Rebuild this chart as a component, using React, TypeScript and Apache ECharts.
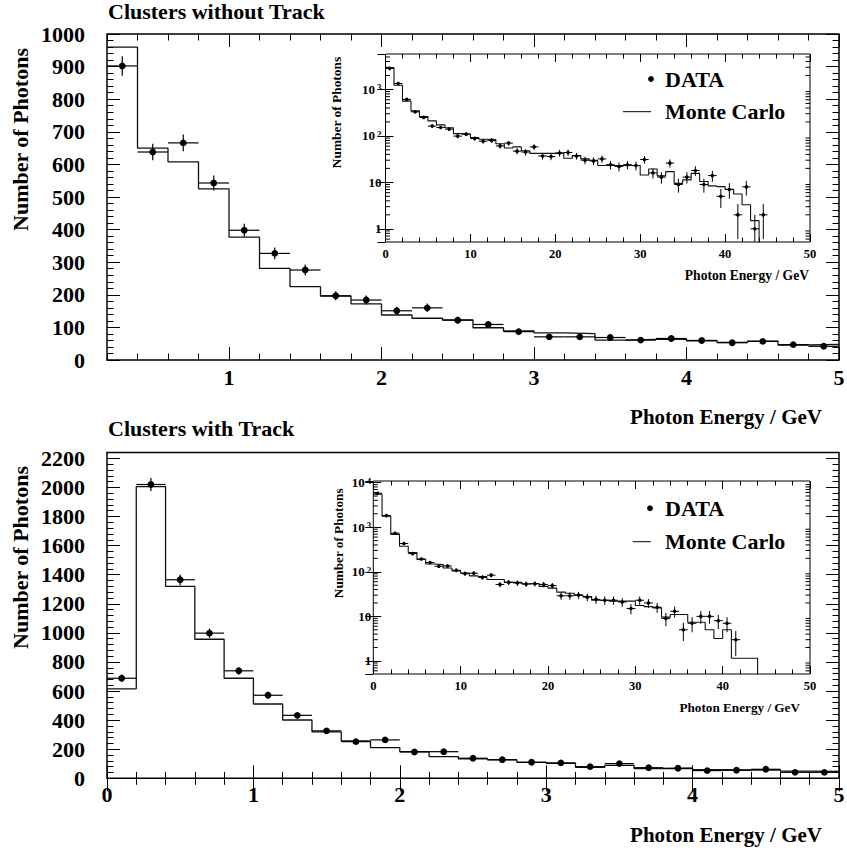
import React, { useEffect, useRef } from 'react';
import * as echarts from 'echarts';

const FONT = '"Liberation Serif", "Times New Roman", "DejaVu Serif", serif';
const BLACK = '#000';

// ---------- Clusters without Track (main, 0.2 GeV bins from 0.2 to 5.0) ----------
const topStart = 0.2;
const topBin = 0.2;
const topData = [902, 638, 666, 543, 398, 327, 276, 197, 184, 151, 160, 122, 109, 87, 71, 71, 69, 61, 66, 60, 53, 57, 47, 42];
const topErr = [30, 25, 26, 23, 20, 18, 17, 14, 14, 12, 13, 11, 10, 9, 8, 8, 8, 8, 8, 8, 7, 8, 7, 6];
const topMC = [960, 650, 608, 525, 377, 281, 225, 196, 172, 138, 128, 123, 99, 89, 83, 81, 61, 63, 64, 59, 54, 58, 46, 48];
const topXTicks = [1, 2, 3, 4, 5];

// ---------- Clusters without Track (inset, 1 GeV bins from 0) ----------
const insTopStart = 0;
const insTopBin = 1;
const insTopData = [2850, 1340, 610, 330, 250, 163, 152, 140, 99, 109, 88, 77, 80, 61, 70, 47, 45, 58, 37, 36, 43, 44, 37, 30, 29, 32, 24, 22, 24, 23, 31, 16, 13, 26, 9, 13, 18, 9, 14, 5, 7, 2, 8, 1, 2];
const insTopErr = [53, 37, 25, 18, 16, 13, 12, 12, 10, 10, 9, 9, 9, 8, 8, 7, 7, 8, 6, 6, 7, 7, 6, 5.5, 5.4, 5.7, 4.9, 4.7, 4.9, 4.8, 5.6, 4, 3.6, 5.1, 3, 3.6, 4.2, 3, 3.7, 2.2, 2.6, 1.4, 2.8, 1, 1.4];
const insTopMC = [2950, 1230, 560, 346, 262, 211, 173, 150, 112, 110, 92, 85, 84, 68, 55, 58, 48, 42, 42, 42, 43, 33, 38, 32, 30, 23, 23, 23, 23, 23, 14.4, 19.4, 13.8, 17, 9.5, 11.3, 15.6, 10.4, 8.4, 8.1, 7.1, 5.6, 3.3, 1.5];

// ---------- Clusters with Track (main, 0.2 GeV bins from 0 to 5.0) ----------
const botStart = 0;
const botBin = 0.2;
const botData = [688, 2020, 1365, 998, 739, 571, 433, 326, 252, 264, 181, 183, 138, 128, 110, 106, 80, 101, 73, 69, 53, 55, 62, 41, 41];
const botErr = [26, 45, 37, 32, 27, 24, 21, 18, 16, 16, 13, 14, 12, 11, 10, 10, 9, 10, 9, 8, 7, 7, 8, 6, 6];
const botMC = [615, 2005, 1319, 956, 688, 511, 401, 319, 257, 211, 183, 149, 133, 126, 110, 103, 76, 89, 67, 69, 60, 57, 57, 50, 48];

// ---------- Clusters with Track (inset, 1 GeV bins from 0) ----------
const insBotStart = 0;
const insBotBin = 1;
const insBotData = [5780, 1820, 733, 430, 256, 194, 161, 133, 135, 108, 91, 93, 75, 84, 52, 58, 56, 53, 54, 52, 49, 29, 29, 30, 27, 24, 23, 23, 21, 15, 23, 20, 16, 9, 13, 5, 7, 10, 10, 8, 7, 3];
const insBotErr = [76, 43, 27, 21, 16, 14, 13, 11.5, 11.6, 10.4, 9.5, 9.6, 8.7, 9.2, 7.2, 7.6, 7.5, 7.3, 7.3, 7.2, 7, 5.4, 5.4, 5.5, 5.2, 4.9, 4.8, 4.8, 4.6, 3.9, 4.8, 4.5, 4, 3, 3.6, 2.2, 2.6, 3.2, 3.2, 2.8, 2.6, 1.7];
const insBotMC = [5500, 1760, 690, 374, 270, 188, 150, 145, 122, 105, 94, 81, 78, 67, 67, 58, 58, 54, 54, 47, 43, 35, 33, 30, 28, 23, 23, 22, 22, 22, 17.5, 16.5, 15.5, 9.6, 11, 11, 7.4, 7.4, 5, 3.2, 5, 1.15, 1.15, 1.15];

// axis ranges
const insTopYMin = 0.52;
const insTopYMax = 5800;
const insBotYMin = 0.51;
const insBotYMax = 10860;

function binCentres(start: number, width: number, values: number[], errors: number[]) {
  return values.map((v, i) => [start + (i + 0.5) * width, v, errors[i], width / 2]);
}

function histSteps(start: number, width: number, values: number[], tail?: number) {
  const pts = values.map((v, i) => [start + i * width, v]);
  pts.push([start + values.length * width, tail === undefined ? values[values.length - 1] : tail]);
  return pts;
}

function logMinor(min: number, max: number) {
  const out: number[][] = [];
  for (let e = -1; e <= 5; e++) {
    for (let m = 2; m <= 9; m++) {
      const v = m * Math.pow(10, e);
      if (v > min && v < max) out.push([0, v]);
    }
  }
  return out;
}

function errRender(radius: number, yFloor: number, lw: number) {
  return (params: any, api: any) => {
    const x = api.value(0);
    const y = api.value(1);
    const e = api.value(2);
    const hw = api.value(3);
    const c = api.coord([x, y]);
    const l = api.coord([x - hw, y]);
    const r = api.coord([x + hw, y]);
    const t = api.coord([x, y + e]);
    const b = api.coord([x, Math.max(y - e, yFloor)]);
    const st = { stroke: BLACK, lineWidth: lw };
    return {
      type: 'group',
      children: [
        { type: 'line', shape: { x1: l[0], y1: c[1], x2: r[0], y2: c[1] }, style: st },
        { type: 'line', shape: { x1: c[0], y1: t[1], x2: c[0], y2: b[1] }, style: st },
        { type: 'circle', shape: { cx: c[0], cy: c[1], r: radius }, style: { fill: BLACK } },
      ],
    };
  };
}

function minorRender(len: number) {
  return (params: any, api: any) => {
    const p = api.coord([0, api.value(1)]);
    const cs = params.coordSys;
    const st = { stroke: BLACK, lineWidth: 1 };
    return {
      type: 'group',
      children: [
        { type: 'line', shape: { x1: cs.x, y1: p[1], x2: cs.x + len, y2: p[1] }, style: st },
        { type: 'line', shape: { x1: cs.x + cs.width, y1: p[1], x2: cs.x + cs.width - len, y2: p[1] }, style: st },
      ],
    };
  };
}

const tickStyle = { color: BLACK, width: 1 };
const plain = (v: number) => String(v);
const mainLabel = { fontFamily: FONT, fontWeight: 'bold', fontSize: 22, color: BLACK, formatter: plain };
const insLabel = { fontFamily: FONT, fontWeight: 'bold', fontSize: 12.5, color: BLACK, formatter: plain };

function logFormatter(v: number) {
  const e = Math.round(Math.log10(v));
  if (e === 0) return '1';
  if (e === 1) return '10';
  return '10{s|' + e + '}';
}

const logRich = {
  s: { fontFamily: FONT, fontWeight: 'bold', fontSize: 9, color: BLACK, verticalAlign: 'top', padding: [0, 0, 8, 2], lineHeight: 9 },
};

function xAx(grid: number, pos: string, min: number, max: number, extra: any) {
  return {
    type: 'value', gridIndex: grid, position: pos, min, max,
    axisLine: { show: false }, splitLine: { show: false },
    ...extra,
  };
}

function App() {
  const ref = useRef<HTMLDivElement>(null);

  useEffect(() => {
    if (!ref.current) return;
    const chart = echarts.init(ref.current, null, { renderer: 'svg' });

    const grids = [
      { left: 107, top: 34, width: 732, height: 326, show: true, borderColor: BLACK, borderWidth: 1.5, backgroundColor: 'transparent', containLabel: false, outerBoundsMode: 'none' },
      { left: 385.5, top: 54, width: 424.5, height: 188, show: true, borderColor: BLACK, borderWidth: 1, backgroundColor: '#fff', containLabel: false, outerBoundsMode: 'none' },
      { left: 107, top: 452.5, width: 732, height: 325.8, show: true, borderColor: BLACK, borderWidth: 1.5, backgroundColor: 'transparent', containLabel: false, outerBoundsMode: 'none' },
      { left: 373.3, top: 481, width: 436.7, height: 193, show: true, borderColor: BLACK, borderWidth: 1, backgroundColor: '#fff', containLabel: false, outerBoundsMode: 'none' },
    ];

    const xAxes = [
      // top main
      xAx(0, 'bottom', topStart, 5, {
        axisTick: { show: true, inside: true, length: 13, lineStyle: tickStyle, customValues: topXTicks },
        axisLabel: { ...mainLabel, margin: 6, customValues: topXTicks },
      }),
      xAx(0, 'bottom', topStart, 5, {
        interval: 0.2,
        axisTick: { show: true, inside: true, length: 6.5, lineStyle: tickStyle },
        axisLabel: { show: false },
      }),
      xAx(0, 'top', topStart, 5, {
        axisTick: { show: true, inside: true, length: 13, lineStyle: tickStyle, customValues: topXTicks },
        axisLabel: { show: false },
      }),
      xAx(0, 'top', topStart, 5, {
        interval: 0.2,
        axisTick: { show: true, inside: true, length: 6.5, lineStyle: tickStyle },
        axisLabel: { show: false },
      }),
      // top inset
      xAx(1, 'bottom', 0, 50, {
        interval: 10,
        axisTick: { show: true, inside: true, length: 8, lineStyle: tickStyle },
        minorTick: { show: true, splitNumber: 5, length: 4.5, lineStyle: tickStyle },
        axisLabel: { ...insLabel, margin: 5 },
      }),
      xAx(1, 'top', 0, 50, {
        interval: 10,
        axisTick: { show: true, inside: true, length: 8, lineStyle: tickStyle },
        minorTick: { show: true, splitNumber: 5, length: 4.5, lineStyle: tickStyle },
        axisLabel: { show: false },
      }),
      // bottom main
      xAx(2, 'bottom', 0, 5, {
        interval: 1,
        axisTick: { show: true, inside: true, length: 13, lineStyle: tickStyle },
        minorTick: { show: true, splitNumber: 5, length: 6.5, lineStyle: tickStyle },
        axisLabel: { ...mainLabel, margin: 5 },
      }),
      xAx(2, 'top', 0, 5, {
        interval: 1,
        axisTick: { show: true, inside: true, length: 13, lineStyle: tickStyle },
        minorTick: { show: true, splitNumber: 5, length: 6.5, lineStyle: tickStyle },
        axisLabel: { show: false },
      }),
      // bottom inset
      xAx(3, 'bottom', 0, 50, {
        interval: 10,
        axisTick: { show: true, inside: true, length: 8, lineStyle: tickStyle },
        minorTick: { show: true, splitNumber: 5, length: 4.5, lineStyle: tickStyle },
        axisLabel: { ...insLabel, margin: 5 },
      }),
      xAx(3, 'top', 0, 50, {
        interval: 10,
        axisTick: { show: true, inside: true, length: 8, lineStyle: tickStyle },
        minorTick: { show: true, splitNumber: 5, length: 4.5, lineStyle: tickStyle },
        axisLabel: { show: false },
      }),
    ];

    const yAxes = [
      // top main
      xAx(0, 'left', 0, 1000, {
        interval: 100,
        axisTick: { show: true, inside: true, length: 13, lineStyle: tickStyle },
        minorTick: { show: true, splitNumber: 5, length: 6.5, lineStyle: tickStyle },
        axisLabel: { ...mainLabel, margin: 22 },
      }),
      xAx(0, 'right', 0, 1000, {
        interval: 100,
        axisTick: { show: true, inside: true, length: 13, lineStyle: tickStyle },
        minorTick: { show: true, splitNumber: 5, length: 6.5, lineStyle: tickStyle },
        axisLabel: { show: false },
      }),
      // top inset (log)
      {
        type: 'log', logBase: 10, gridIndex: 1, position: 'left', min: insTopYMin, max: insTopYMax,
        axisLine: { show: false }, splitLine: { show: false },
        axisTick: { show: true, inside: true, length: 8, lineStyle: tickStyle },
        axisLabel: { ...insLabel, fontSize: 13, margin: 4, showMinLabel: false, showMaxLabel: false, formatter: logFormatter, rich: logRich },
      },
      {
        type: 'log', logBase: 10, gridIndex: 1, position: 'right', min: insTopYMin, max: insTopYMax,
        axisLine: { show: false }, splitLine: { show: false },
        axisTick: { show: true, inside: true, length: 8, lineStyle: tickStyle },
        axisLabel: { show: false },
      },
      // bottom main
      xAx(2, 'left', 0, 2240, {
        interval: 200,
        axisTick: { show: true, inside: true, length: 13, lineStyle: tickStyle },
        axisLabel: { ...mainLabel, margin: 22, showMaxLabel: false },
      }),
      xAx(2, 'left', 0, 2240, {
        interval: 40,
        axisTick: { show: true, inside: true, length: 6.5, lineStyle: tickStyle },
        axisLabel: { show: false },
      }),
      xAx(2, 'right', 0, 2240, {
        interval: 200,
        axisTick: { show: true, inside: true, length: 13, lineStyle: tickStyle },
        axisLabel: { show: false },
      }),
      xAx(2, 'right', 0, 2240, {
        interval: 40,
        axisTick: { show: true, inside: true, length: 6.5, lineStyle: tickStyle },
        axisLabel: { show: false },
      }),
      // bottom inset (log)
      {
        type: 'log', logBase: 10, gridIndex: 3, position: 'left', min: insBotYMin, max: insBotYMax,
        axisLine: { show: false }, splitLine: { show: false },
        axisTick: { show: true, inside: true, length: 8, lineStyle: tickStyle },
        axisLabel: { ...insLabel, fontSize: 13, margin: 2, showMinLabel: false, showMaxLabel: false, formatter: logFormatter, rich: logRich },
      },
      {
        type: 'log', logBase: 10, gridIndex: 3, position: 'right', min: insBotYMin, max: insBotYMax,
        axisLine: { show: false }, splitLine: { show: false },
        axisTick: { show: true, inside: true, length: 8, lineStyle: tickStyle },
        axisLabel: { show: false },
      },
    ];

    const mcLine = (xi: number, yi: number, data: number[][], w: number) => ({
      type: 'line', name: 'Monte Carlo', xAxisIndex: xi, yAxisIndex: yi, data,
      step: 'end', symbol: 'none', showSymbol: false, clip: true, silent: true, z: 2,
      lineStyle: { color: '#111', width: w },
    });

    const dataSeries = (xi: number, yi: number, data: number[][], r: number, floor: number, lw: number) => ({
      type: 'custom', name: 'DATA', xAxisIndex: xi, yAxisIndex: yi, data,
      renderItem: errRender(r, floor, lw), silent: true, z: 3,
    });

    const series = [
      mcLine(0, 0, histSteps(topStart, topBin, topMC), 1.3),
      dataSeries(0, 0, binCentres(topStart, topBin, topData, topErr), 3.4, 0, 1.2),
      mcLine(4, 2, histSteps(insTopStart, insTopBin, insTopMC, insTopYMin / 10), 1.1),
      dataSeries(4, 2, binCentres(insTopStart, insTopBin, insTopData, insTopErr), 1.8, insTopYMin, 1),
      { type: 'custom', xAxisIndex: 4, yAxisIndex: 2, data: logMinor(insTopYMin, insTopYMax), renderItem: minorRender(4.5), silent: true, z: 1 },
      mcLine(6, 4, histSteps(botStart, botBin, botMC), 1.3),
      dataSeries(6, 4, binCentres(botStart, botBin, botData, botErr), 3.4, 0, 1.2),
      mcLine(8, 8, histSteps(insBotStart, insBotBin, insBotMC, insBotYMin / 10), 1.1),
      dataSeries(8, 8, binCentres(insBotStart, insBotBin, insBotData, insBotErr), 1.8, insBotYMin, 1),
      { type: 'custom', xAxisIndex: 8, yAxisIndex: 8, data: logMinor(insBotYMin, insBotYMax), renderItem: minorRender(4.5), silent: true, z: 1 },
    ];

    const txt = (text: string, x: number, y: number, size: number, align: string, rot = 0) => ({
      type: 'text', x, y, rotation: rot, silent: true,
      style: { text, fill: BLACK, fontFamily: FONT, fontWeight: 'bold', fontSize: size, align, verticalAlign: 'middle' },
    });

    const graphic = [
      txt('Clusters without Track', 108, 11, 22, 'left'),
      txt('Clusters with Track', 108, 428.5, 22, 'left'),
      txt('Number of Photons', 20, 139.5, 22, 'center', Math.PI / 2),
      txt('Number of Photons', 20, 557.5, 22, 'center', Math.PI / 2),
      txt('Photon Energy / GeV', 822, 416.7, 21, 'right'),
      txt('Photon Energy / GeV', 822, 835.2, 21, 'right'),
      txt('Number of Photons', 336, 112.5, 13.4, 'center', Math.PI / 2),
      txt('Number of Photons', 338.3, 543.3, 13.2, 'center', Math.PI / 2),
      txt('Photon Energy / GeV', 809, 275, 13.6, 'right'),
      txt('Photon Energy / GeV', 800, 707.3, 13.2, 'right'),
      // legends
      { type: 'circle', silent: true, shape: { cx: 651, cy: 79, r: 2.9 }, style: { fill: BLACK } },
      txt('DATA', 665, 79, 22, 'left'),
      { type: 'line', silent: true, shape: { x1: 623, y1: 111.7, x2: 651, y2: 111.7 }, style: { stroke: BLACK, lineWidth: 1 } },
      txt('Monte Carlo', 665, 111.7, 22, 'left'),
      { type: 'circle', silent: true, shape: { cx: 650, cy: 508.3, r: 2.9 }, style: { fill: BLACK } },
      txt('DATA', 665, 508.3, 22, 'left'),
      { type: 'line', silent: true, shape: { x1: 632.7, y1: 541.7, x2: 650.7, y2: 541.7 }, style: { stroke: BLACK, lineWidth: 1 } },
      txt('Monte Carlo', 665, 541.7, 22, 'left'),
    ];

    chart.setOption({
      animation: false,
      backgroundColor: '#fff',
      grid: grids,
      xAxis: xAxes,
      yAxis: yAxes,
      series,
      graphic,
    });

    return () => {
      chart.dispose();
    };
  }, []);

  return (
    <div
      ref={ref}
      style={{ position: 'absolute', left: 0, top: 0, width: 847, height: 852, background: '#fff' }}
    />
  );
}

export default App;
